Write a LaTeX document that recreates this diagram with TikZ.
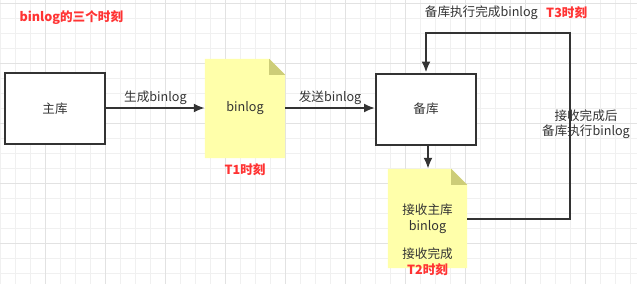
\documentclass[tikz,border=0pt]{standalone}
\usepackage{fontspec}
\setmainfont{Noto Sans CJK SC}
\usetikzlibrary{arrows.meta}
\begin{document}
\definecolor{ink}{HTML}{333333}
\definecolor{alert}{HTML}{FF3333}
\definecolor{notefill}{HTML}{FFFFAA}
\definecolor{notefold}{HTML}{CDCD78}
\definecolor{gridminor}{HTML}{F0F0F0}
\definecolor{gridmajor}{HTML}{E2E2E2}
\begin{tikzpicture}[x=1pt,y=-1pt,
  every node/.style={font=\fontsize{12.6}{15.5}\selectfont, text=ink},
  box/.style={draw=ink, line width=2pt, fill=white, rectangle, minimum width=100pt, minimum height=71pt},
  notebox/.style={rectangle, minimum width=80pt, minimum height=99pt, align=center},
  link/.style={draw=ink, line width=2pt, -{Latex[length=11pt,width=9pt]}},
  lbl/.style={inner sep=1pt},
  redlbl/.style={text=alert, font=\fontsize{12.6}{15.5}\selectfont\bfseries}
]
\useasboundingbox (0,0) rectangle (637,284);
\fill[white] (0,0) rectangle (637,284);
% background grid
\foreach \gx in {0,15,...,637} {\draw[gridminor, line width=1pt] (\gx,0) -- (\gx,284);}
\foreach \gy in {3,18,...,284} {\draw[gridminor, line width=1pt] (0,\gy) -- (637,\gy);}
\foreach \gx in {45,105,...,637} {\draw[gridmajor, line width=1pt] (\gx,0) -- (\gx,284);}
\foreach \gy in {3,63,...,284} {\draw[gridmajor, line width=1pt] (0,\gy) -- (637,\gy);}

% title
\node[redlbl, anchor=west] (title) at (16,18) {binlog的三个时刻};

% primary and replica servers
\node[box] (master) at (55,108.5) {主库};
\node[box] (slave) at (426,109) {备库};

% binlog notes with folded corner
\node[notebox] (note1) at (245,108.5) {};
\node[notebox, minimum width=79pt] (note2) at (427.5,218.5) {};
\foreach \n in {note1,note2} {
  \fill[notefill] (\n.south west) -- (\n.north west) -- ([xshift=-16pt]\n.north east)
    -- ([yshift=-16pt]\n.north east) -- (\n.south east) -- cycle;
  \fill[notefold] ([xshift=-16pt]\n.north east) -- ([yshift=-16pt]\n.north east)
    -- ([xshift=-16pt,yshift=-16pt]\n.north east) -- cycle;
}
\node (note1text) at (note1.center) {binlog};
\node[align=center] (note2text) at (427.5,219) {接收主库\\binlog};
\node (note2done) at (427.5,254) {接收完成};
\node[redlbl] (t2) at (427.5,270) {T2时刻};
\node[redlbl] (t1) at (245,170) {T1时刻};

% connectors
\draw[link] (master.east |- 0,108) -- (note1.west |- 0,108)
  node[lbl, midway, above=1pt] (genlbl) {生成binlog};
\draw[link] (note1.east |- 0,108) -- (slave.west |- 0,108)
  node[lbl, midway, above=1pt] (sendlbl) {发送binlog};
\draw[link] (slave.south -| 428,0) -- (note2.north -| 428,0);

\coordinate (corner1) at (570,219);
\coordinate (corner2) at (570,33);
\coordinate (corner3) at (426,33);
\draw[link] (note2.east |- corner1) -- (corner1) -- (corner2) -- (corner3) -- (slave.north);

\node[align=center, inner sep=0pt] (applylbl) at (586,124) {接收完成后\\备库执行binlog};
\node[anchor=east, inner sep=0pt] (donelbl) at (538,13) {备库执行完成binlog};
\node[redlbl, anchor=west, inner sep=0pt] (t3) at (546,13) {T3时刻};
\end{tikzpicture}
\end{document}
